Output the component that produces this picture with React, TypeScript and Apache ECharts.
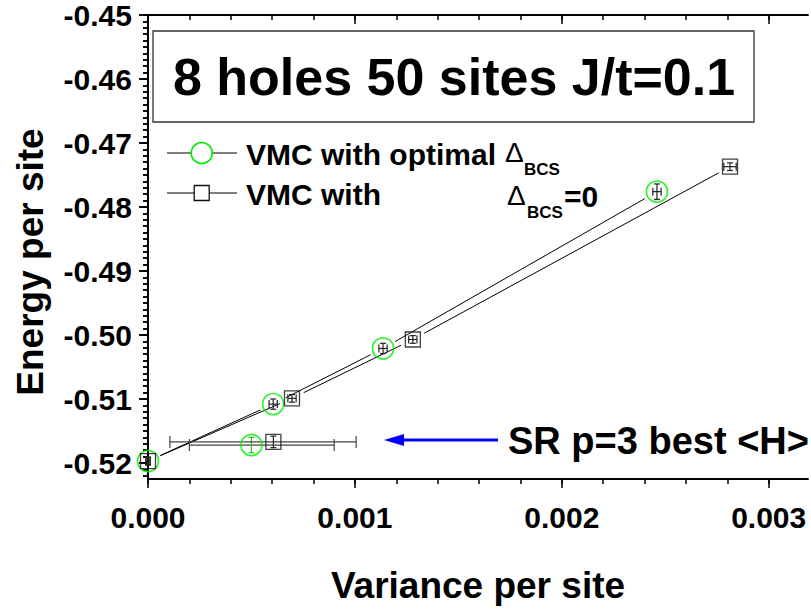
import React, { useEffect, useRef } from "react";
import * as echarts from "echarts";

// ---- data ----
const optX = [0, 0.000605, 0.001136, 0.00246];
const optY = [-0.5197, -0.5108, -0.5021, -0.4776];
const optXErr = [0.00001, 0.00002, 0.00002, 0.00002];
const optYErr = [0.0006, 0.0008, 0.0008, 0.0012];

const zeroX = [0, 0.000696, 0.00128, 0.002813];
const zeroY = [-0.5197, -0.5099, -0.5007, -0.4737];
const zeroXErr = [0.00001, 0.00002, 0.00002, 0.00003];
const zeroYErr = [0.0006, 0.0006, 0.0006, 0.0006];

// SR p=3 best <H> points: [x, y, xMinus, xPlus, yMinus, yPlus]
const srOpt = [0.0005, -0.5172, 0.0003, 0.0004, 0.0012, 0.0012];
const srZero = [0.000606, -0.5167, 0.0005, 0.0004, 0.0009, 0.0009];

const xTicks = [0, 0.001, 0.002, 0.003];
const yTicks = [-0.52, -0.51, -0.5, -0.49, -0.48, -0.47, -0.46, -0.45];
const X_MIN = 0, X_MAX = 0.00319, Y_MIN = -0.5225, Y_MAX = -0.45;
const X_MINOR_STEP = 0.0002, Y_MINOR_STEP = 0.001;

const FONT = '"Liberation Sans", Arial, sans-serif';

function minorTicks(min: number, max: number, step: number) {
  const out: number[] = [];
  const k0 = Math.ceil(min / step - 1e-9), k1 = Math.floor(max / step + 1e-9);
  for (let k = k0; k <= k1; k++) out.push(+(k * step).toFixed(6));
  return out;
}

function segments(xs: number[], ys: number[], gap: number) {
  const out: number[][] = [];
  for (let i = 0; i < xs.length - 1; i++) out.push([xs[i], ys[i], xs[i + 1], ys[i + 1], gap, gap]);
  return out;
}

function errItems(xs: number[], ys: number[], xe: number[], ye: number[]) {
  return xs.map((x, i) => [x, ys[i], xe[i], xe[i], ye[i], ye[i]]);
}

function segRender(_p: any, api: any) {
  const p1 = api.coord([api.value(0), api.value(1)]);
  const p2 = api.coord([api.value(2), api.value(3)]);
  const dx = p2[0] - p1[0], dy = p2[1] - p1[1];
  const len = Math.hypot(dx, dy) || 1;
  const ux = dx / len, uy = dy / len;
  const g1 = api.value(4), g2 = api.value(5);
  return {
    type: "line",
    shape: { x1: p1[0] + ux * g1, y1: p1[1] + uy * g1, x2: p2[0] - ux * g2, y2: p2[1] - uy * g2 },
    style: { stroke: "#000", lineWidth: 1 },
  };
}

function makeErrRender(hColor: string, vColor: string, cap: number) {
  return (_p: any, api: any) => {
    const x = api.value(0), y = api.value(1);
    const c = api.coord([x, y]);
    const l = api.coord([x - api.value(2), y])[0];
    const r = api.coord([x + api.value(3), y])[0];
    const b = api.coord([x, y - api.value(4)])[1];
    const t = api.coord([x, y + api.value(5)])[1];
    const hs = { stroke: hColor, lineWidth: 1.2 };
    const vs = { stroke: vColor, lineWidth: 1.2 };
    return {
      type: "group",
      children: [
        { type: "line", shape: { x1: l, y1: c[1], x2: r, y2: c[1] }, style: hs },
        { type: "line", shape: { x1: l, y1: c[1] - cap, x2: l, y2: c[1] + cap }, style: hs },
        { type: "line", shape: { x1: r, y1: c[1] - cap, x2: r, y2: c[1] + cap }, style: hs },
        { type: "line", shape: { x1: c[0], y1: t, x2: c[0], y2: b }, style: vs },
        { type: "line", shape: { x1: c[0] - 3, y1: t, x2: c[0] + 3, y2: t }, style: vs },
        { type: "line", shape: { x1: c[0] - 3, y1: b, x2: c[0] + 3, y2: b }, style: vs },
      ],
    };
  };
}

const axisBase = (extra: any) => ({
  type: "value",
  splitLine: { show: false },
  ...extra,
});

export default function App() {
  const ref = useRef<HTMLDivElement>(null);
  useEffect(() => {
    if (!ref.current) return;
    const chart = echarts.init(ref.current, null, { renderer: "svg" });
    const lineStyle = { color: "#000", width: 1.8 };
    const tickStyle = { color: "#000", width: 1.5 };
    const labelFont = { fontFamily: FONT, fontWeight: "bold", fontSize: 30, color: "#000" };

    const xMain = { min: X_MIN, max: X_MAX };
    const yMain = { min: Y_MIN, max: Y_MAX };
    const xMinor = minorTicks(X_MIN, X_MAX, X_MINOR_STEP);
    const yMinor = minorTicks(Y_MIN, Y_MAX, Y_MINOR_STEP);

    const option: any = {
      animation: false,
      backgroundColor: "#fff",
      grid: { left: 148, right: 3, top: 15, bottom: 132, containLabel: false },
      xAxis: [
        axisBase({
          ...xMain, position: "bottom",
          axisLine: { show: true, lineStyle },
          axisTick: { show: true, inside: false, length: 9, lineStyle: tickStyle, customValues: xTicks },
          axisLabel: { show: true, margin: 23, ...labelFont, customValues: xTicks, formatter: (v: number) => v.toFixed(3) },
        }),
        axisBase({
          ...xMain, position: "bottom",
          axisLine: { show: false },
          axisTick: { show: true, inside: false, length: 5, lineStyle: tickStyle, customValues: xMinor },
          axisLabel: { show: false },
        }),
        axisBase({
          ...xMain, position: "top",
          axisLine: { show: true, lineStyle },
          axisTick: { show: true, inside: true, length: 9, lineStyle: tickStyle, customValues: xTicks },
          axisLabel: { show: false },
        }),
        axisBase({
          ...xMain, position: "top",
          axisLine: { show: false },
          axisTick: { show: true, inside: true, length: 5, lineStyle: tickStyle, customValues: xMinor },
          axisLabel: { show: false },
        }),
      ],
      yAxis: [
        axisBase({
          ...yMain, position: "left",
          axisLine: { show: true, lineStyle },
          axisTick: { show: true, inside: false, length: 9, lineStyle: tickStyle, customValues: yTicks },
          axisLabel: { show: true, margin: 16, ...labelFont, customValues: yTicks, formatter: (v: number) => v.toFixed(2) },
        }),
        axisBase({
          ...yMain, position: "left",
          axisLine: { show: false },
          axisTick: { show: true, inside: false, length: 5, lineStyle: tickStyle, customValues: yMinor },
          axisLabel: { show: false },
        }),
        axisBase({
          ...yMain, position: "right",
          axisLine: { show: true, lineStyle },
          axisTick: { show: true, inside: true, length: 9, lineStyle: tickStyle, customValues: yTicks },
          axisLabel: { show: false },
        }),
        axisBase({
          ...yMain, position: "right",
          axisLine: { show: false },
          axisTick: { show: true, inside: true, length: 5, lineStyle: tickStyle, customValues: yMinor },
          axisLabel: { show: false },
        }),
      ],
      series: [
        {
          type: "custom", name: "optLine", renderItem: segRender,
          data: segments(optX, optY, 14), encode: { x: [0, 2], y: [1, 3] }, silent: true, z: 2,
        },
        {
          type: "custom", name: "zeroLine", renderItem: segRender,
          data: segments(zeroX, zeroY, 13), encode: { x: [0, 2], y: [1, 3] }, silent: true, z: 2,
        },
        {
          type: "custom", name: "optErr", renderItem: makeErrRender("#222", "#222", 4),
          data: errItems(optX, optY, optXErr, optYErr), encode: { x: 0, y: 1 }, silent: true, z: 3,
        },
        {
          type: "custom", name: "zeroErr", renderItem: makeErrRender("#222", "#222", 4),
          data: errItems(zeroX, zeroY, zeroXErr, zeroYErr), encode: { x: 0, y: 1 }, silent: true, z: 3,
        },
        {
          type: "custom", name: "srOptErr", renderItem: makeErrRender("#444", "#22cc22", 6),
          data: [srOpt], encode: { x: 0, y: 1 }, silent: true, z: 3,
        },
        {
          type: "custom", name: "srZeroErr", renderItem: makeErrRender("#444", "#222", 6),
          data: [srZero], encode: { x: 0, y: 1 }, silent: true, z: 3,
        },
        {
          type: "scatter", name: "VMC with optimal ΔBCS", symbol: "circle", symbolSize: 21,
          itemStyle: { color: "transparent", borderColor: "#00ee00", borderWidth: 1.7 },
          data: [...optX.map((x, i) => [x, optY[i]]), [srOpt[0], srOpt[1]]], z: 4,
        },
        {
          type: "scatter", name: "VMC with ΔBCS=0", symbol: "rect", symbolSize: 15,
          itemStyle: { color: "transparent", borderColor: "#111", borderWidth: 1.3 },
          data: [...zeroX.map((x, i) => [x, zeroY[i]]), [srZero[0], srZero[1]]], z: 4,
        },
      ],
      graphic: [
        // title box
        { type: "rect", shape: { x: 153, y: 31, width: 601, height: 91 }, style: { fill: "#fff", stroke: "#333", lineWidth: 1.3 }, z: 10 },
        { type: "text", x: 454, y: 77, z: 11, style: { text: "8 holes 50 sites J/t=0.1", font: `bold 52px ${FONT}`, fill: "#000", textAlign: "center", textVerticalAlign: "middle" } },
        // legend row 1
        { type: "line", shape: { x1: 167, y1: 153, x2: 237, y2: 153 }, style: { stroke: "#000", lineWidth: 1 }, z: 10 },
        { type: "circle", shape: { cx: 201.7, cy: 153, r: 10.5 }, style: { fill: "#fff", stroke: "#00ee00", lineWidth: 1.7 }, z: 11 },
        { type: "text", x: 246, y: 154, z: 11, style: { text: "VMC with optimal", font: `bold 30px ${FONT}`, fill: "#000", textVerticalAlign: "middle" } },
        { type: "text", x: 505, y: 152, z: 11, style: { text: "Δ", font: `28px ${FONT}`, fill: "#000", textVerticalAlign: "middle" } },
        { type: "text", x: 524, y: 169, z: 11, style: { text: "BCS", font: `bold 17px ${FONT}`, fill: "#000", textVerticalAlign: "middle" } },
        // legend row 2
        { type: "line", shape: { x1: 167, y1: 193, x2: 237, y2: 193 }, style: { stroke: "#000", lineWidth: 1 }, z: 10 },
        { type: "rect", shape: { x: 194.2, y: 185.5, width: 15, height: 15 }, style: { fill: "#fff", stroke: "#111", lineWidth: 1.3 }, z: 11 },
        { type: "text", x: 246, y: 194, z: 11, style: { text: "VMC with", font: `bold 30px ${FONT}`, fill: "#000", textVerticalAlign: "middle" } },
        { type: "text", x: 507, y: 195, z: 11, style: { text: "Δ", font: `28px ${FONT}`, fill: "#000", textVerticalAlign: "middle" } },
        { type: "text", x: 527, y: 212, z: 11, style: { text: "BCS", font: `bold 17px ${FONT}`, fill: "#000", textVerticalAlign: "middle" } },
        { type: "text", x: 564, y: 196, z: 11, style: { text: "=0", font: `bold 30px ${FONT}`, fill: "#000", textVerticalAlign: "middle" } },
        // SR annotation
        { type: "line", shape: { x1: 498, y1: 440, x2: 398, y2: 440 }, style: { stroke: "#0000ff", lineWidth: 3 }, z: 10 },
        { type: "polygon", shape: { points: [[384, 440], [404, 434], [404, 446]] }, style: { fill: "#0000ff" }, z: 10 },
        { type: "text", x: 508, y: 441, z: 1, style: { text: "SR p=3 best <H>", font: `bold 38px ${FONT}`, fill: "#000", textVerticalAlign: "middle" } },
        // axis titles
        { type: "text", x: 30, y: 262, rotation: Math.PI / 2, z: 11, style: { text: "Energy per site", font: `bold 37px ${FONT}`, fill: "#000", textAlign: "center", textVerticalAlign: "middle" } },
        { type: "text", x: 478, y: 585, z: 11, style: { text: "Variance per site", font: `bold 37px ${FONT}`, fill: "#000", textAlign: "center", textVerticalAlign: "middle" } },
      ],
    };
    chart.setOption(option);
    return () => chart.dispose();
  }, []);
  return (
    <div
      ref={ref}
      style={{ position: "fixed", left: 0, top: 0, width: 811, height: 611, background: "#fff" }}
    />
  );
}
